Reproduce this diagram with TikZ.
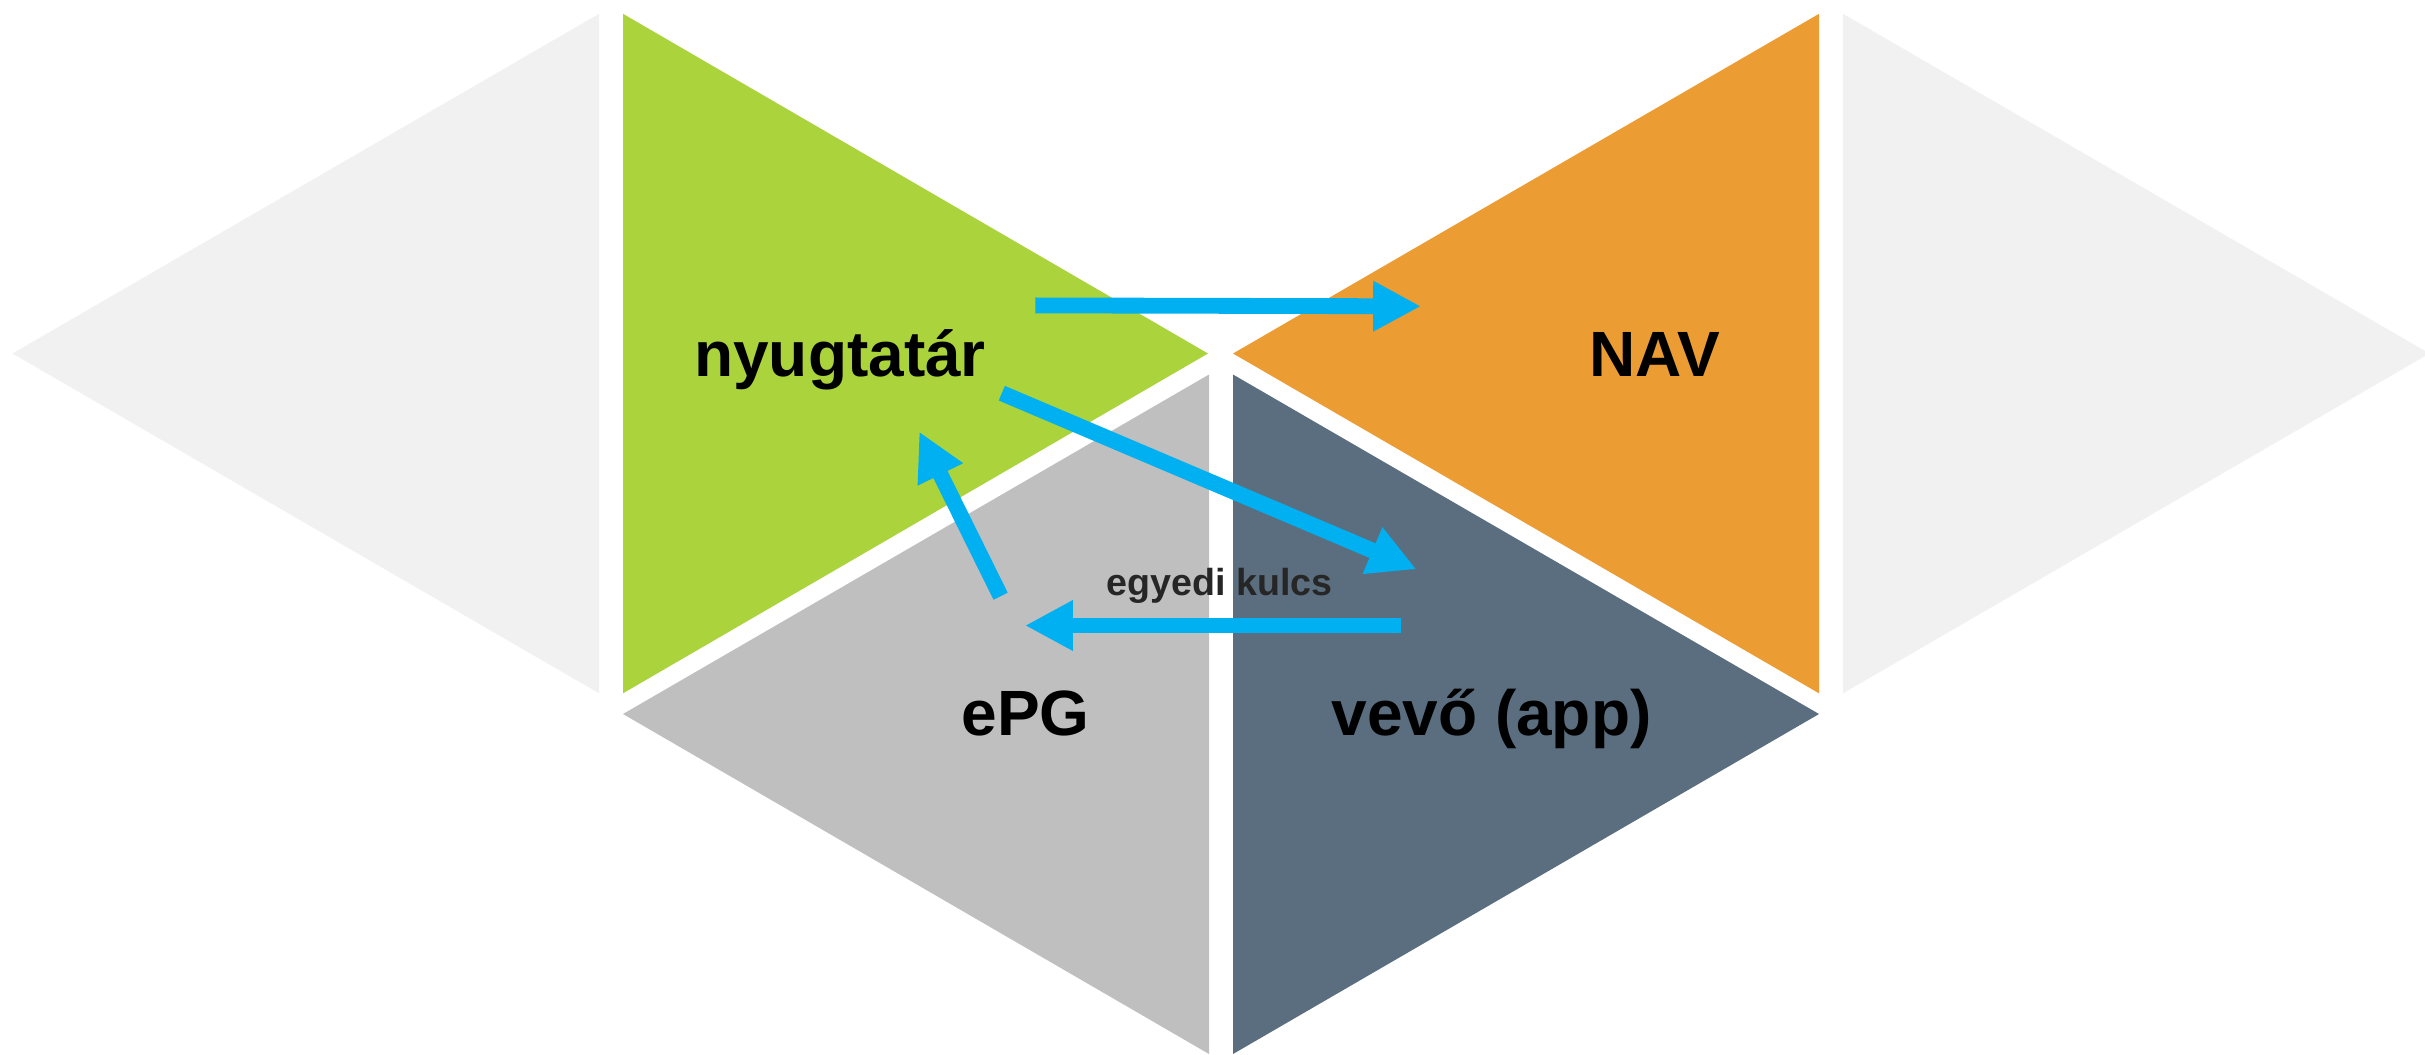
\documentclass[tikz,border=0pt]{standalone}
\usepackage{fontspec}
\setmainfont{Liberation Sans}
\usetikzlibrary{arrows.meta}
\definecolor{lgray}{HTML}{F1F1F1}
\definecolor{greenT}{HTML}{ABD33C}
\definecolor{orangeT}{HTML}{EB9D34}
\definecolor{grayT}{HTML}{BFBFBF}
\definecolor{slateT}{HTML}{5A6E7F}
\definecolor{flowblue}{HTML}{00B0F0}
\definecolor{keytext}{HTML}{262626}
\begin{document}
\begin{tikzpicture}[x={(0.01cm,0)}, y={(0,-0.01cm)},
  flow/.style={draw=flowblue, line width=4.5pt, -{Triangle[length=13.6pt,width=13.4pt]}},
  lbl/.style={font=\fontsize{18.2pt}{22pt}\selectfont\bfseries, inner sep=0pt, anchor=base, text=black},
  keylbl/.style={font=\fontsize{10.7pt}{13pt}\selectfont\bfseries, inner sep=0pt, anchor=base, text=keytext}]
\useasboundingbox (0,0) rectangle (2425,1054);
\clip (0,0) rectangle (2425,1054);
% triangles
\fill[lgray] (12.5,353.5) -- (599,13.8) -- (599,693.3) -- cycle;
\fill[greenT] (623,13.8) -- (623,693.3) -- (1208,353.5) -- cycle;
\fill[orangeT] (1233,353.5) -- (1819,13.8) -- (1819,693.3) -- cycle;
\fill[lgray] (1843,13.8) -- (1843,693.3) -- (2429.5,353.5) -- cycle;
\fill[grayT] (623,714) -- (1209,374.5) -- (1209,1054) -- cycle;
\fill[slateT] (1233,374.5) -- (1233,1054) -- (1819,714) -- cycle;
% labels
\node[lbl] (nyug) at (840,376.5) {nyugtatár};
\node[lbl] (nav) at (1654.5,376.5) {NAV};
\node[lbl] (epg) at (1025.7,735.5) {ePG};
\node[lbl] (vevo) at (1491.5,735.5) {vevő (app)};
\node[keylbl] (key) at (1219.6,595.5) {egyedi kulcs};
% arrow end points
\coordinate (a1s) at (1035.3,305.4);
\coordinate (a1e) at (1421,306.3);
\coordinate (a2s) at (1001.8,393.2);
\coordinate (a2e) at (1416.5,569.3);
\coordinate (a3s) at (1000.6,596.2);
\coordinate (a3e) at (919.2,431.6);
\coordinate (a4s) at (1401,625.5);
\coordinate (a4e) at (1025,625.5);
\draw[flow] (a1s) -- (a1e);
\draw[flow] (a2s) -- (a2e);
\draw[flow] (a3s) -- (a3e);
\draw[flow] (a4s) -- (a4e);
\end{tikzpicture}
\end{document}
